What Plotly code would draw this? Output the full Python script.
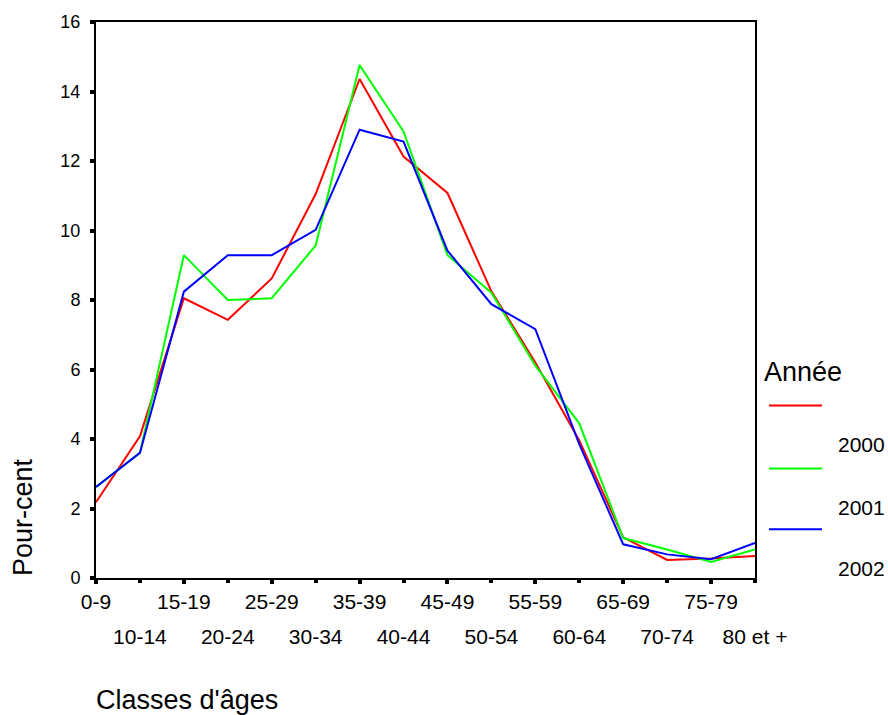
import plotly.graph_objects as go

categories = ["0-9", "10-14", "15-19", "20-24", "25-29", "30-34", "35-39", "40-44",
              "45-49", "50-54", "55-59", "60-64", "65-69", "70-74", "75-79", "80 et +"]
years = ["2000", "2001", "2002"]
values_2000 = [2.18, 4.08, 8.05, 7.43, 8.62, 11.05, 14.36, 12.13,
               11.08, 8.25, 6.20, 3.96, 1.17, 0.52, 0.56, 0.63]
values_2001 = [2.62, 3.60, 9.29, 8.00, 8.05, 9.57, 14.76, 12.85,
               9.29, 8.21, 6.11, 4.45, 1.15, 0.82, 0.46, 0.82]
values_2002 = [2.62, 3.60, 8.24, 9.29, 9.29, 10.02, 12.90, 12.56,
               9.42, 7.88, 7.16, 3.85, 0.97, 0.68, 0.54, 1.01]
colors = ["#FF0000", "#00FF00", "#0000FF"]
y_ticks = [0, 2, 4, 6, 8, 10, 12, 14, 16]

W, H = 888, 715
L, R, T, B = 96, 755, 20, 578
FONT = "Liberation Sans, Arial, sans-serif"

def px(x):
    return (x - L) / (R - L)

def py(y):
    return (B - y) / (B - T)

fig = go.Figure()
for name, vals, col in zip(years, [values_2000, values_2001, values_2002], colors):
    fig.add_trace(go.Scatter(x=list(range(len(categories))), y=vals, mode="lines",
                             name=name, line=dict(color=col, width=2),
                             showlegend=False, hoverinfo="skip"))

idx = list(range(len(categories)))
fig.update_layout(
    width=W, height=H,
    margin=dict(l=L, r=W - R, t=T, b=H - B, pad=0),
    paper_bgcolor="white", plot_bgcolor="white",
    font=dict(family=FONT, color="black", size=18),
    xaxis=dict(range=[0, len(categories) - 1], tickvals=idx[0::2],
               ticktext=categories[0::2], showgrid=False, zeroline=False,
               showline=True, linecolor="black", linewidth=2, mirror=True,
               ticks="outside", ticklen=4, tickwidth=4, tickcolor="black",
               tickfont=dict(size=21), ticklabelstandoff=0),
    xaxis2=dict(range=[0, len(categories) - 1], overlaying="x", side="bottom",
                anchor="y", tickvals=idx[1::2], ticktext=categories[1::2],
                showgrid=False, zeroline=False, showline=False,
                ticks="outside", ticklen=4, tickwidth=4, tickcolor="black",
                tickfont=dict(size=21), ticklabelstandoff=36),
    yaxis=dict(range=[0, 16], tickvals=y_ticks, showgrid=False, zeroline=False,
               showline=True, linecolor="black", linewidth=2, mirror=True,
               ticks="outside", ticklen=4, tickwidth=4, tickcolor="black",
               tickfont=dict(size=18), ticklabelstandoff=6),
)
# invisible trace to activate xaxis2
fig.add_trace(go.Scatter(x=[0], y=[None], xaxis="x2", yaxis="y", showlegend=False,
                         hoverinfo="skip"))

annotations = [
    dict(text="Pour-cent", textangle=-90, xref="paper", yref="paper",
         x=px(23), y=0, xanchor="center", yanchor="bottom", showarrow=False,
         font=dict(size=27)),
    dict(text="Classes d'âges", xref="paper", yref="paper", x=px(94), y=py(700),
         xanchor="left", yanchor="middle", showarrow=False, font=dict(size=27)),
    dict(text="Année", xref="paper", yref="paper", x=px(762), y=py(371),
         xanchor="left", yanchor="middle", showarrow=False, font=dict(size=27)),
]
shapes = []
leg_line_y = [405, 468, 529]
leg_text_y = [444, 507, 568]
for name, col, ly, ty in zip(years, colors, leg_line_y, leg_text_y):
    shapes.append(dict(type="line", xref="paper", yref="paper", x0=px(769), x1=px(822),
                       y0=py(ly), y1=py(ly), line=dict(color=col, width=2)))
    annotations.append(dict(text=name, xref="paper", yref="paper", x=px(836), y=py(ty),
                            xanchor="left", yanchor="middle", showarrow=False,
                            font=dict(size=21)))
fig.update_layout(annotations=annotations, shapes=shapes)

fig.write_html("out.html", config={"displayModeBar": False},
               post_script="document.body.style.margin='0';document.body.style.overflow='hidden';")
